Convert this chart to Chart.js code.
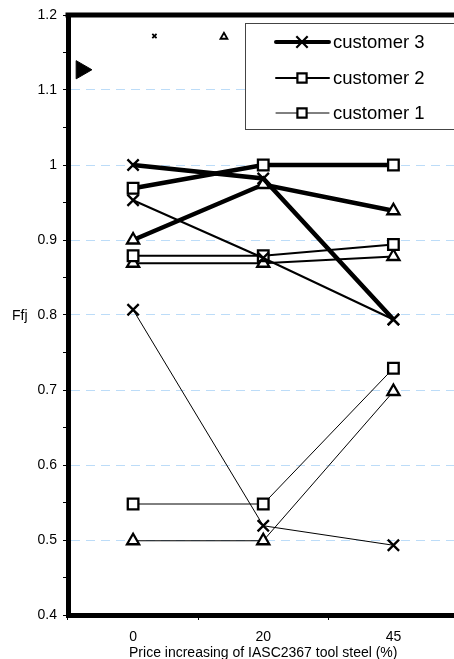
<!DOCTYPE html>
<html>
  <head>
    <title>Ffj</title>
    <script src="https://cdn.jsdelivr.net/npm/chart.js"></script>
    <style>
      html, body { margin: 0; padding: 0; overflow: hidden; background: #fff; }
    </style>
  </head>

  <body>
    <canvas id="ffjChart" width="470" height="659"></canvas>

    <script>
      var priceSteps = ["0", "20", "45"];

      // customer 3 (thick lines)
      var c3Cross = [1.0, 0.982, 0.794];
      var c3Square = [0.969, 1.0, 1.0];
      var c3Triangle = [0.9, 0.974, 0.939];
      // customer 2 (medium lines)
      var c2Cross = [0.953, 0.876, 0.794];
      var c2Square = [0.879, 0.879, 0.894];
      var c2Triangle = [0.869, 0.869, 0.878];
      // customer 1 (thin lines)
      var c1Cross = [0.807, 0.519, 0.493];
      var c1Square = [0.548, 0.548, 0.729];
      var c1Triangle = [0.499, 0.499, 0.698];

      var legendLabels = ["customer 3", "customer 2", "customer 1"];

      // loose markers left over near the top of the plot
      var strayCross = [{ x: 0.164, y: 1.172 }];
      var strayTriangle = [{ x: 0.698, y: 1.171 }];
      var strayArrow = [{ x: -0.397, y: 1.127 }];

      var FONT = "'Liberation Sans', Arial, sans-serif";

      function isTenth(v) {
        return Math.abs(Math.round(v * 10) - v * 10) < 1e-6;
      }

      function series(label, data, style, lineWidth, radius) {
        return {
          label: label,
          data: data,
          borderColor: "#000",
          borderWidth: lineWidth,
          pointStyle: style,
          pointRadius: radius,
          pointHoverRadius: radius,
          pointBorderWidth: 2.3,
          pointBorderColor: "#000",
          pointBackgroundColor: "#fff",
          fill: false,
          tension: 0,
        };
      }

      function stray(data, style, radius, width, fillColor, rotation) {
        return {
          data: data,
          xAxisID: "xs",
          showLine: false,
          pointStyle: style,
          pointRadius: radius,
          pointBorderWidth: width,
          pointBorderColor: "#000",
          pointBackgroundColor: fillColor,
          rotation: rotation || 0,
        };
      }

      var legendStyles = [
        { style: "crossRot", width: 4, radius: 8 },
        { style: "rect", width: 2, radius: 6.5 },
        { style: "rect", width: 1, radius: 6.5 },
      ];

      var extras = {
        id: "extras",
        afterDraw(chart) {
          var ctx = chart.ctx;
          var area = chart.chartArea;
          ctx.save();

          // top frame line
          ctx.strokeStyle = "#000";
          ctx.lineWidth = 5;
          ctx.beginPath();
          ctx.moveTo(area.left - 2.5, area.top);
          ctx.lineTo(area.right, area.top);
          ctx.stroke();

          // y title, horizontal
          ctx.fillStyle = "#000";
          ctx.font = "14px " + FONT;
          ctx.textAlign = "left";
          ctx.textBaseline = "middle";
          ctx.fillText("Ffj", 12, (area.top + area.bottom) / 2 + 1);

          // legend box
          var bx = 245, by = 23, bw = 240, bh = 106;
          ctx.fillStyle = "#fff";
          ctx.fillRect(bx, by, bw, bh);
          ctx.strokeStyle = "#444";
          ctx.lineWidth = 1;
          ctx.strokeRect(bx + 0.5, by + 0.5, bw, bh);

          var rows = [42, 78, 113];
          legendLabels.forEach(function (label, i) {
            var s = legendStyles[i];
            var y = rows[i];
            ctx.strokeStyle = "#000";
            ctx.lineWidth = s.width;
            ctx.lineCap = "round";
            ctx.beginPath();
            ctx.moveTo(276, y);
            ctx.lineTo(329, y);
            ctx.stroke();
            ctx.lineCap = "butt";
            ctx.fillStyle = "#fff";
            ctx.lineWidth = 2.2;
            Chart.helpers.drawPoint(ctx, { pointStyle: s.style, radius: s.radius, borderWidth: 2.2, rotation: 0 }, 302, y);
            ctx.fillStyle = "#000";
            ctx.font = "18.5px " + FONT;
            ctx.textAlign = "left";
            ctx.textBaseline = "middle";
            ctx.fillText(label, 333, y + 1);
          });
          ctx.restore();
        },
      };

      var ffjChart = new Chart(document.getElementById("ffjChart").getContext("2d"), {
        type: "line",
        data: {
          labels: priceSteps,
          datasets: [
            series("customer 3", c3Cross, "crossRot", 4.5, 8),
            series("customer 3", c3Square, "rect", 4.5, 7.5),
            series("customer 3", c3Triangle, "triangle", 4.5, 7),
            series("customer 2", c2Cross, "crossRot", 2, 8),
            series("customer 2", c2Square, "rect", 2, 7.5),
            series("customer 2", c2Triangle, "triangle", 2, 7),
            series("customer 1", c1Cross, "crossRot", 1, 8),
            series("customer 1", c1Square, "rect", 1, 7.5),
            series("customer 1", c1Triangle, "triangle", 1, 7),
            stray(strayCross, "crossRot", 3, 1.8, "#fff"),
            stray(strayTriangle, "triangle", 4, 1.8, "#fff"),
            stray(strayArrow, "triangle", 10.5, 1, "#000", 90),
          ],
        },
        options: {
          responsive: false,
          animation: false,
          layout: { padding: { top: 15, right: 9, left: 0, bottom: 0 } },
          plugins: {
            legend: { display: false },
            tooltip: { enabled: false },
          },
          scales: {
            x: {
              offset: true,
              afterFit: function (s) { s.height = 44; },
              ticks: { color: "#000", font: { family: FONT, size: 14 }, padding: 9 },
              grid: { offset: true, drawOnChartArea: false, tickLength: 5, color: "#000" },
              border: { color: "#000", width: 5 },
              title: {
                display: true,
                text: "Price increasing of IASC2367 tool steel (%)",
                color: "#000",
                font: { family: FONT, size: 14, lineHeight: 0.8 },
                padding: 0,
              },
            },
            xs: {
              type: "linear",
              display: false,
              min: -0.5,
              max: 2.5,
            },
            y: {
              min: 0.4,
              max: 1.2,
              afterFit: function (s) { s.width = 68; },
              ticks: {
                stepSize: 0.05,
                autoSkip: false,
                color: "#000",
                font: { family: FONT, size: 14 },
                padding: 6,
                callback: function (v) {
                  return isTenth(v) ? String(Math.round(v * 10) / 10) : "";
                },
              },
              grid: {
                color: function (c) {
                  var v = c.tick.value;
                  return isTenth(v) && v > 0.41 && v < 1.19 ? "#bcdcf8" : "transparent";
                },
                tickColor: "#000",
                tickLength: 5,
                lineWidth: 1,
              },
              border: { color: "#000", width: 5, dash: [9, 6] },
            },
          },
        },
        plugins: [extras],
      });
    </script>
  </body>
</html>
